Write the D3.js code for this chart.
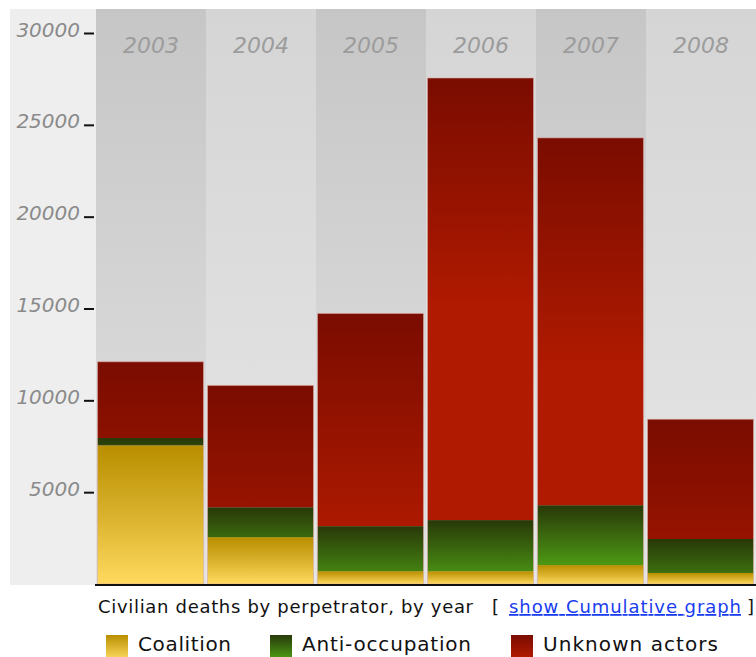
<!DOCTYPE html>
<html><head><meta charset="utf-8">
<script src="https://cdn.jsdelivr.net/npm/d3@7"></script>
<style>
html,body{margin:0;padding:0;background:#fff;}
</style></head>
<body>
<svg id="chart" width="756" height="657"></svg>
<script>
const years = ["2003","2004","2005","2006","2007","2008"];
const coalition = [7550, 2550, 700, 700, 1030, 600];
const antiOccupation = [400, 1630, 2450, 2780, 3260, 1850];
const unknownActors = [4150, 6630, 11580, 24070, 20000, 6520];
const seriesNames = ["Coalition", "Anti-occupation", "Unknown actors"];
const yTicks = [5000, 10000, 15000, 20000, 25000, 30000];

const svg = d3.select("#chart");
const plotTop = 9, base = 584;
const FONT = "DejaVu Sans, Verdana, sans-serif";
const x = d3.scaleBand().domain(years).range([96, 756]).paddingInner(0).paddingOuter(0);
const y = d3.scaleLinear().domain([0, 30000]).range([base, 33]);

const defs = svg.append("defs");
function lin(id, stops) {
  const g = defs.append("linearGradient").attr("id", id).attr("x1", 0).attr("y1", 0).attr("x2", 0).attr("y2", 1);
  stops.forEach(([o, c]) => g.append("stop").attr("offset", o).attr("stop-color", c));
  return g;
}
lin("bgDark", [[0, "#c6c6c6"], [1, "#e2e2e2"]]);
lin("bgLight", [[0, "#d5d5d5"], [1, "#e6e6e6"]]);
lin("gCoal", [[0, "#b98f00"], [0.5, "#d9b12c"], [1, "#ffda5e"]]);
lin("gCoalSw", [[0, "#b98f00"], [1, "#f6d356"]]);
lin("gAntiSw", [[0, "#283a0a"], [1, "#4a9414"]]);
lin("gUnkSw", [[0, "#7a0c00"], [1, "#b01a00"]]);

svg.append("rect").attr("x", 10).attr("y", plotTop).attr("width", 86).attr("height", base + 1 - plotTop).attr("fill", "#eeeeee");

svg.selectAll("rect.bg").data(years).join("rect").attr("class", "bg")
  .attr("x", d => x(d)).attr("y", plotTop).attr("width", x.bandwidth()).attr("height", base + 1 - plotTop)
  .attr("fill", (d, i) => i % 2 === 0 ? "url(#bgDark)" : "url(#bgLight)");

svg.selectAll("text.yr").data(years).join("text").attr("class", "yr")
  .attr("x", d => x(d) + x.bandwidth() / 2).attr("y", 53).attr("text-anchor", "middle")
  .attr("font-family", FONT).attr("font-style", "italic")
  .attr("font-size", 22).attr("fill", "#9c9c9c").text(d => d);

const rows = years.map((yr, i) => ({ year: yr, Coalition: coalition[i], "Anti-occupation": antiOccupation[i], "Unknown actors": unknownActors[i] }));
const stack = d3.stack().keys(seriesNames)(rows);

const barX = d => x(d.data.year) + 1.5;
const barW = x.bandwidth() - 4;

stack.forEach((layer, li) => {
  layer.forEach((seg, i) => {
    const top = y(seg[1]), bot = y(seg[0]);
    let fill;
    if (li === 0) fill = "url(#gCoal)";
    else {
      const id = "g" + li + "_" + i;
      const len = li === 1 ? 58 : 230;
      const c0 = li === 1 ? "#283808" : "#7a0c00";
      const c1 = li === 1 ? "#4c9614" : "#b01a00";
      const g = defs.append("linearGradient").attr("id", id).attr("gradientUnits", "userSpaceOnUse")
        .attr("x1", 0).attr("x2", 0).attr("y1", top).attr("y2", top + len);
      g.append("stop").attr("offset", 0).attr("stop-color", c0);
      g.append("stop").attr("offset", 1).attr("stop-color", c1);
      fill = "url(#" + id + ")";
    }
    svg.append("rect").attr("x", barX(seg)).attr("y", top).attr("width", barW).attr("height", bot - top)
      .attr("fill", fill);
  });
});
svg.selectAll("rect.outline").data(stack[2]).join("rect").attr("class", "outline")
  .attr("x", d => barX(d)).attr("y", d => y(d[1])).attr("width", barW).attr("height", d => base - y(d[1]))
  .attr("fill", "none").attr("stroke", "#d8a8a0").attr("stroke-opacity", 0.6).attr("stroke-width", 1);

svg.append("line").attr("x1", 95).attr("x2", 756).attr("y1", base + 1).attr("y2", base + 1)
  .attr("stroke", "#111").attr("stroke-width", 2);

const axis = d3.axisLeft(y).tickValues(yTicks).tickSize(11).tickPadding(4).tickFormat(d3.format("d"));
const ga = svg.append("g").attr("transform", "translate(95,0)").call(axis);
ga.select(".domain").remove();
ga.selectAll(".tick line").attr("stroke", "#111").attr("stroke-width", 2).attr("x1", -1);
ga.selectAll(".tick text").attr("font-family", FONT).attr("font-style", "italic")
  .attr("font-size", 20).attr("fill", "#8a8a8a").attr("dy", "0.15em");

function t(xp, yp, size, fill, str, extra) {
  const e = svg.append("text").attr("x", xp).attr("y", yp).attr("font-family", FONT)
    .attr("font-size", size).attr("fill", fill).text(str);
  if (extra) Object.entries(extra).forEach(([k, v]) => e.attr(k, v));
  return e;
}
t(98, 613, 18, "#111", "Civilian deaths by perpetrator, by year", { "textLength": 375, "lengthAdjust": "spacing" });
t(492, 613, 18, "#111", "[");
t(509, 613, 18, "#1a3cf0", "show Cumulative graph", { "text-decoration": "underline", "textLength": 232, "lengthAdjust": "spacing" });
t(747, 613, 18, "#111", "]");

const legend = [
  { name: seriesNames[0], fill: "url(#gCoalSw)", sx: 106, tx: 138, w: 93 },
  { name: seriesNames[1], fill: "url(#gAntiSw)", sx: 270, tx: 302, w: 169 },
  { name: seriesNames[2], fill: "url(#gUnkSw)", sx: 511, tx: 543, w: 175 }
];
const lg = svg.selectAll("g.lg").data(legend).join("g").attr("class", "lg");
lg.append("rect").attr("x", d => d.sx).attr("y", 635).attr("width", 22).attr("height", 22).attr("fill", d => d.fill);
lg.append("text").attr("x", d => d.tx).attr("y", 651).attr("font-family", FONT)
  .attr("font-size", 20).attr("fill", "#111").attr("textLength", d => d.w).attr("lengthAdjust", "spacing").text(d => d.name);
</script>
</body></html>
